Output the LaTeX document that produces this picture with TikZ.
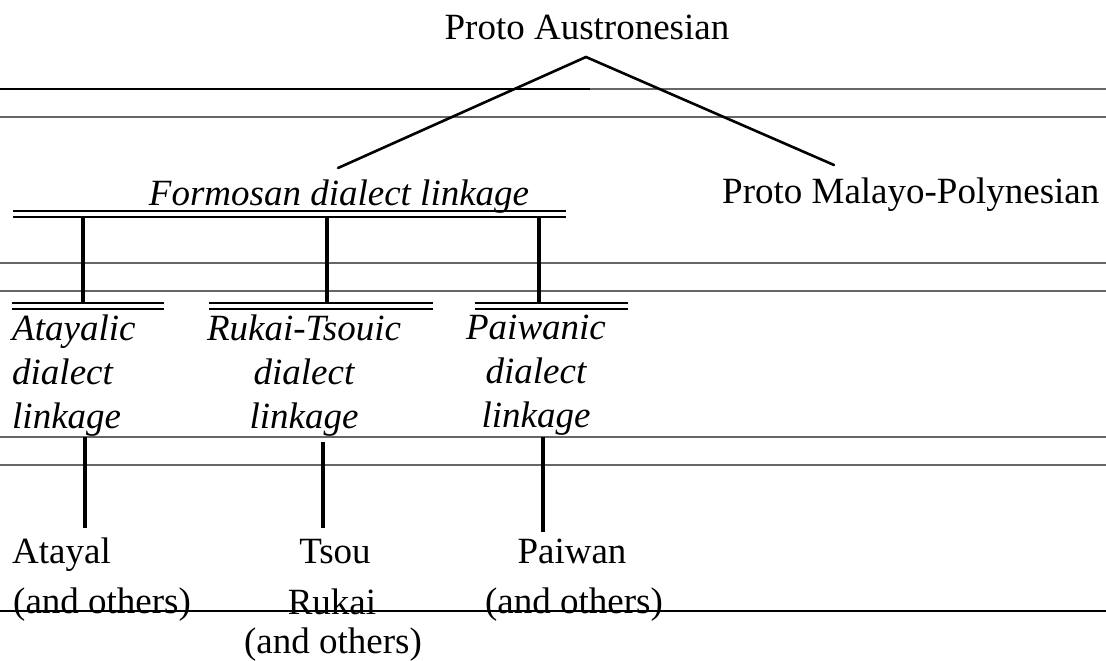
\documentclass[tikz,border=0pt]{standalone}
\usepackage{fontspec}
\setmainfont{Liberation Serif}
\begin{document}
\begin{tikzpicture}[x=1pt,y=-1pt,
  lbl/.style={inner sep=0pt, font=\fontsize{37}{44}\selectfont},
  ilbl/.style={inner sep=0pt, font=\fontsize{37}{44}\selectfont\itshape},
  rule/.style={draw=black!60, line width=1.2pt},
  branch/.style={line width=2.6pt},
  stem/.style={line width=3.4pt},
  bar/.style={line width=1.6pt}]
\useasboundingbox (0,0) rectangle (1106,661);
% scan rules
\foreach \yy in {89,117,263,291,437,465}{\draw[rule] (0,\yy) -- (1106,\yy);}
\draw[line width=1.2pt] (0,89) -- (590,89);
% labels
\node[lbl, anchor=base] (pa) at (587,40) {Proto Austronesian};
\node[lbl, anchor=base west] (pmp) at (722,203) {Proto Malayo-Polynesian};
\node[ilbl, anchor=base] (fdl) at (339,205) {Formosan dialect linkage};
\node[ilbl, anchor=north west, align=left] (atl) at (12,315) {Atayalic\\dialect\\linkage};
\node[ilbl, anchor=north, align=center] (rtl) at (304,315) {Rukai-Tsouic\\dialect\\linkage};
\node[ilbl, anchor=north, align=center] (pwl) at (536,315) {Paiwanic\\dialect\\linkage};
\node[lbl, anchor=base west] (at) at (12,563) {Atayal};
\node[lbl, anchor=base west] (ato) at (13,613) {(and others)};
\node[lbl, anchor=base] (ts) at (335,563) {Tsou};
\node[lbl, anchor=base] (ru) at (332,614) {Rukai};
\node[lbl, anchor=base] (ruo) at (333,653) {(and others)};
\node[lbl, anchor=base] (pw) at (572,563) {Paiwan};
\node[lbl, anchor=base] (pwo) at (574,613) {(and others)};
% tree from Proto Austronesian
\coordinate (apex) at (586,57);
\coordinate (fdltop) at (338,168);
\coordinate (pmptop) at (834,165);
\draw[branch, line cap=round] (fdltop) -- (apex) -- (pmptop);
% double bars
\draw[bar] (13,211) -- (566,211) (13,217) -- (566,217);
\draw[bar] (12,303) -- (164,303) (12,309) -- (164,309);
\draw[bar] (209,303) -- (433,303) (209,309) -- (433,309);
\draw[bar] (475,303) -- (628,303) (475,309) -- (628,309);
% upper stems
\coordinate (s1a) at (83,217);  \coordinate (s1b) at (83,303);
\coordinate (s2a) at (327,217); \coordinate (s2b) at (327,303);
\coordinate (s3a) at (539,217); \coordinate (s3b) at (539,303);
\draw[stem] (s1a) -- (s1b);
\draw[stem] (s2a) -- (s2b);
\draw[stem] (s3a) -- (s3b);
% lower stems
\coordinate (l1a) at (85,437);  \coordinate (l1b) at (85,528);
\coordinate (l2a) at (323,442); \coordinate (l2b) at (323,528);
\coordinate (l3a) at (543,437); \coordinate (l3b) at (543,532);
\draw[stem] (l1a) -- (l1b);
\draw[stem] (l2a) -- (l2b);
\draw[stem] (l3a) -- (l3b);
% bottom rule across text
\draw[line width=1.3pt] (0,611) -- (1106,611);
\end{tikzpicture}
\end{document}
